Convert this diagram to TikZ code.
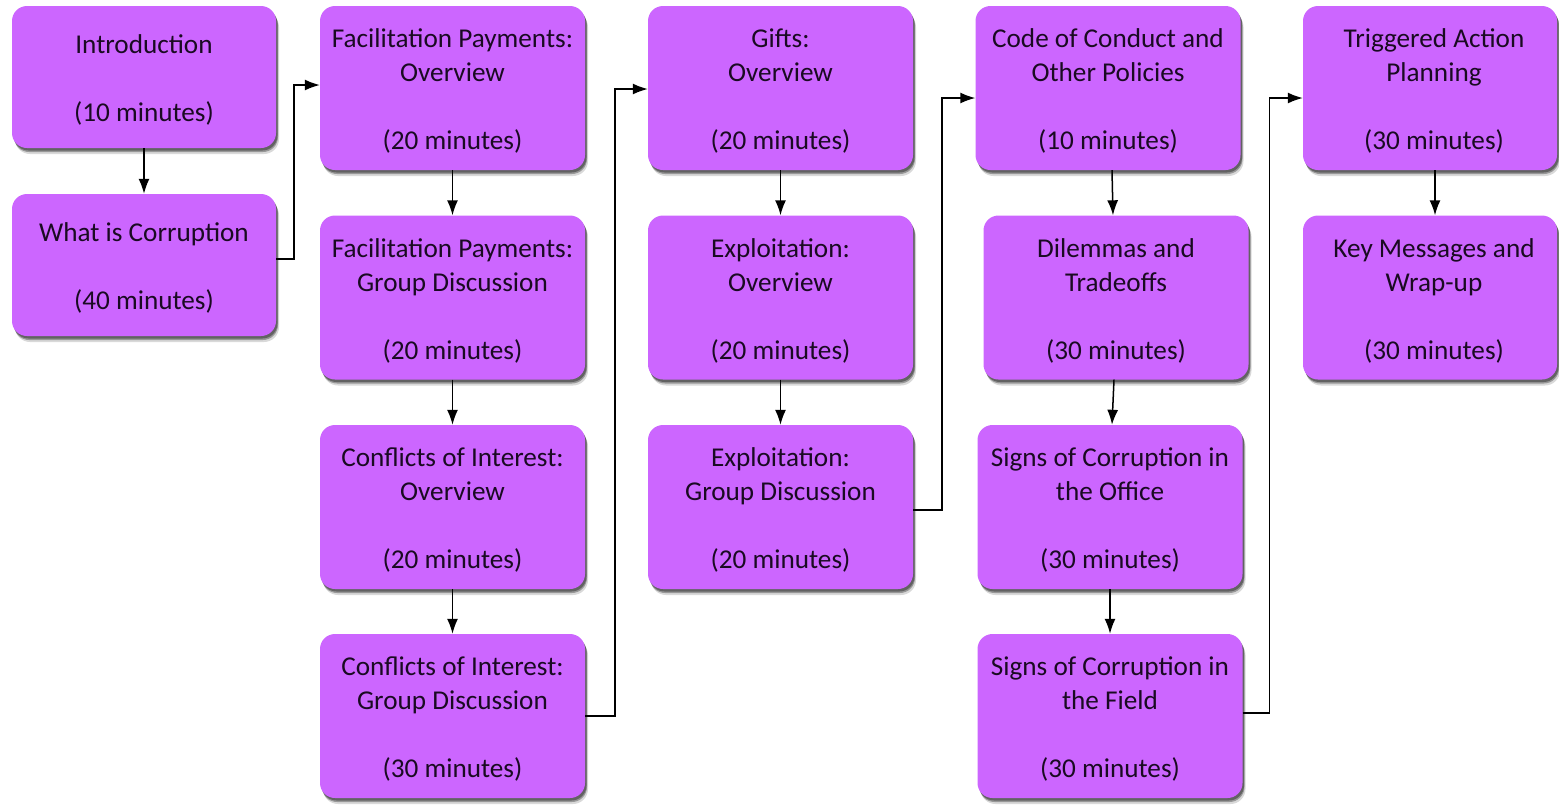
\documentclass[tikz,border=0pt]{standalone}
\usepackage{fontspec}
\setmainfont{Carlito}
\usetikzlibrary{shadows,arrows.meta,calc}
\definecolor{boxfill}{HTML}{CC66FF}
\definecolor{txt}{HTML}{1A0A22}
\tikzset{
  box/.style={fill=boxfill, rounded corners=15pt, inner sep=0pt,
    drop shadow={shadow xshift=3pt, shadow yshift=-6pt, opacity=0.15, fill=black},
    drop shadow={shadow xshift=2pt, shadow yshift=-4pt, opacity=0.3, fill=black},
    drop shadow={shadow xshift=1.5pt, shadow yshift=-2.5pt, opacity=0.35, fill=black}},
  wide/.style={box, minimum width=265pt, minimum height=164pt},
  lbl/.style={inner sep=0pt, align=center, text=txt, font=\fontsize{27.2pt}{34pt}\selectfont},
  arr/.style={draw=black, line width=1.5pt, -{Latex[length=15pt,width=11pt]}},
}
\begin{document}
\begin{tikzpicture}[x=1pt,y=-1pt]
\useasboundingbox (0,0) rectangle (1559,804);
% column 1
\node[box, minimum width=264pt, minimum height=142pt] (intro) at (144,77) {};
\node[box, minimum width=264pt, minimum height=142pt] (what) at (144,265) {};
% column 2
\node[wide] (fpo) at (452.5,88) {};
\node[wide] (fpg) at (452.5,297.5) {};
\node[wide] (coio) at (452.5,507) {};
\node[wide] (coig) at (452.5,716) {};
% column 3
\node[wide] (gifts) at (780.5,88) {};
\node[wide] (exo) at (780.5,297.5) {};
\node[wide] (exg) at (780.5,507) {};
% column 4
\node[wide] (code) at (1108,88) {};
\node[wide] (dil) at (1116,297.5) {};
\node[wide] (off) at (1110,507) {};
\node[wide] (field) at (1110,716) {};
% column 5
\node[box, minimum width=254pt, minimum height=164pt] (trig) at (1430,88) {};
\node[box, minimum width=254pt, minimum height=164pt] (key) at (1430,297.5) {};
% texts
\node[lbl] (intro-t) at ([yshift=-2.5pt]intro.center) {Introduction\\[34pt](10 minutes)};
\node[lbl] (what-t) at ([yshift=-2.5pt]what.center) {What is Corruption\\[34pt](40 minutes)};
\node[lbl] (fpo-t) at ([yshift=-3pt]fpo.center) {Facilitation Payments:\\Overview\\[34pt](20 minutes)};
\node[lbl] (fpg-t) at ([yshift=-3pt]fpg.center) {Facilitation Payments:\\Group Discussion\\[34pt](20 minutes)};
\node[lbl] (coio-t) at ([yshift=-3pt]coio.center) {Conflicts of Interest:\\Overview\\[34pt](20 minutes)};
\node[lbl] (coig-t) at ([yshift=-3pt]coig.center) {Conflicts of Interest:\\Group Discussion\\[34pt](30 minutes)};
\node[lbl] (gifts-t) at ([yshift=-3pt]gifts.center) {Gifts:\\Overview\\[34pt](20 minutes)};
\node[lbl] (exo-t) at ([yshift=-3pt]exo.center) {Exploitation:\\Overview\\[34pt](20 minutes)};
\node[lbl] (exg-t) at ([yshift=-3pt]exg.center) {Exploitation:\\Group Discussion\\[34pt](20 minutes)};
\node[lbl] (code-t) at ([yshift=-3pt]code.center) {Code of Conduct and\\Other Policies\\[34pt](10 minutes)};
\node[lbl] (dil-t) at ([yshift=-3pt]dil.center) {Dilemmas and\\Tradeoffs\\[34pt](30 minutes)};
\node[lbl] (off-t) at ([yshift=-3pt]off.center) {Signs of Corruption in\\the Office\\[34pt](30 minutes)};
\node[lbl] (field-t) at ([yshift=-3pt]field.center) {Signs of Corruption in\\the Field\\[34pt](30 minutes)};
\node[lbl] (trig-t) at ([xshift=4pt,yshift=-3pt]trig.center) {Triggered Action\\Planning\\[34pt](30 minutes)};
\node[lbl] (key-t) at ([xshift=4pt,yshift=-3pt]key.center) {Key Messages and\\Wrap-up\\[34pt](30 minutes)};
% connectors
\draw[arr] (intro) -- (what);
\draw[arr] ([yshift=6pt]what.east) -- ++(18,0) |- ([yshift=3pt]fpo.west);
\draw[arr] (fpo) -- (fpg);
\draw[arr] (fpg) -- (coio);
\draw[arr] (coio) -- (coig);
\draw[arr] (coig.east) -- ++(30,0) |- ([yshift=-1pt]gifts.west);
\draw[arr] (gifts) -- (exo);
\draw[arr] (exo) -- (exg);
\draw[arr] ([yshift=-3pt]exg.east) -- ++(29,0) |- ([yshift=-10pt]code.west);
\draw[arr] ([xshift=4pt]code.south) -- ([xshift=-3pt]dil.north);
\draw[arr] ([xshift=-2pt]dil.south) -- ([xshift=2pt]off.north);
\draw[arr] (off) -- (field);
\draw[arr] ([yshift=3pt]field.east) -- ++(27,0) |- ([yshift=-10pt]trig.west);
\draw[arr] ([xshift=5pt]trig.south) -- ([xshift=5pt]key.north);
\end{tikzpicture}
\end{document}
